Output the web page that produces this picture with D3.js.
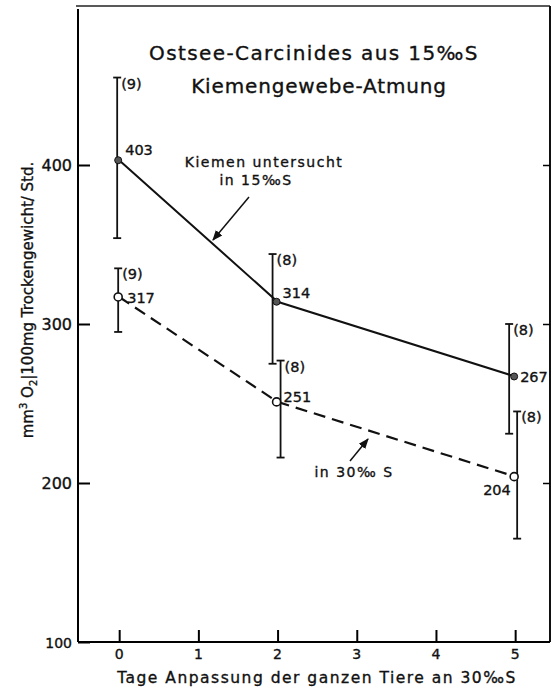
<!DOCTYPE html>
<html>
<head>
  <script src="https://d3js.org/d3.v7.min.js"></script>
  <style>
    body { margin: 0; background: #fff; }
    text { font-family: "DejaVu Sans", sans-serif; fill: #111; stroke: #111; stroke-width: 0.35px; }
  </style>
</head>
<body>
  <svg width="553" height="691"></svg>
  <script>
    // data
    var days = [0, 2, 5];
    var gillsIn15 = [403, 314, 267];
    var gillsIn15Hi = [455, 344, 300];
    var gillsIn15Lo = [354, 275, 231];
    var gillsIn15N = [9, 8, 8];
    var gillsIn30 = [317, 251, 204];
    var gillsIn30Hi = [335, 277, 245];
    var gillsIn30Lo = [295, 216, 165];
    var gillsIn30N = [9, 8, 8];
    var xTicks = [0, 1, 2, 3, 4, 5];
    var yTicks = [100, 200, 300, 400];

    var svg = d3.select("svg"),
        x0 = 78, x1 = 550, y0 = 6, y1 = 642;

    var x = d3.scaleLinear().domain([-0.52, 5.44]).range([x0, x1]),
        y = d3.scaleLinear().domain([100, 500]).range([y1, y0]);

    function rows(vals, hi, lo, n) {
      return days.map(function(d, i) {
        return {day: d, v: vals[i], hi: hi[i], lo: lo[i], n: n[i]};
      });
    }
    var s15 = rows(gillsIn15, gillsIn15Hi, gillsIn15Lo, gillsIn15N),
        s30 = rows(gillsIn30, gillsIn30Hi, gillsIn30Lo, gillsIn30N);

    // frame
    svg.append("line").attr("x1", x0 - 2).attr("x2", x1).attr("y1", y0).attr("y2", y0)
      .attr("stroke", "#222").attr("stroke-width", 1.5);
    svg.append("line").attr("x1", x1).attr("x2", x1).attr("y1", y0).attr("y2", y1)
      .attr("stroke", "#111").attr("stroke-width", 2);

    // left axis, ticks inward
    var yAxis = svg.append("g").attr("transform", "translate(" + x0 + ",0)")
      .call(d3.axisRight(y).tickValues(yTicks).tickSize(12).tickFormat(""));
    yAxis.select(".domain").attr("d", "M0," + (y0 + 3) + "V" + y1).attr("stroke-width", 2);
    yAxis.selectAll(".tick line").attr("stroke-width", 2);
    svg.selectAll(".ylab").data(yTicks).enter().append("text")
      .attr("x", x0 - 6).attr("y", function(d) { return y(d) + 6; })
      .attr("text-anchor", "end").style("font-size", function(d) { return d == 100 ? "14px" : "16px"; })
      .text(function(d) { return d; });

    // right side ticks
    svg.append("g").attr("transform", "translate(" + x1 + ",0)")
      .call(d3.axisLeft(y).tickValues([200, 300, 400]).tickSize(7).tickFormat(""))
      .call(function(g) { g.select(".domain").remove(); })
      .selectAll(".tick line").attr("stroke-width", 1.5);

    // bottom axis, ticks upward
    var xAxis = svg.append("g").attr("transform", "translate(0," + y1 + ")")
      .call(d3.axisTop(x).tickValues(xTicks).tickSize(12).tickFormat(""));
    xAxis.select(".domain").attr("d", "M" + x0 + ",0H" + x1).attr("stroke-width", 2);
    xAxis.selectAll(".tick line").attr("stroke-width", 2);
    svg.selectAll(".xlab").data(xTicks).enter().append("text")
      .attr("x", function(d) { return x(d); }).attr("y", y1 + 17)
      .attr("text-anchor", "middle").style("font-size", "14px")
      .text(function(d) { return d; });

    // axis titles
    svg.append("text").attr("x", 317).attr("y", 683).attr("text-anchor", "middle")
      .style("font-size", "15.5px").style("letter-spacing", "1.5px")
      .text("Tage  Anpassung der ganzen Tiere an 30\u2030S");

    var yl = svg.append("text").attr("transform", "translate(33,300) rotate(-90)")
      .attr("text-anchor", "middle").style("font-size", "15px");
    yl.append("tspan").text("mm");
    yl.append("tspan").attr("dy", -6).style("font-size", "10px").text("3");
    yl.append("tspan").attr("dy", 6).text(" O");
    yl.append("tspan").attr("dy", 4).style("font-size", "10px").text("2");
    yl.append("tspan").attr("dy", -4).text("|100mg  Trockengewicht/ Std.");

    // chart title
    svg.append("text").attr("x", 314).attr("y", 60).attr("text-anchor", "middle")
      .style("font-size", "20px").style("letter-spacing", "1.4px")
      .text("Ostsee-Carcinides aus 15\u2030S");
    svg.append("text").attr("x", 319).attr("y", 93).attr("text-anchor", "middle")
      .style("font-size", "20px").style("letter-spacing", "0.85px")
      .text("Kiemengewebe-Atmung");

    // error bars
    function errorBars(data, dx) {
      var g = svg.append("g");
      g.selectAll("line.v").data(data).enter().append("line")
        .attr("x1", function(d, i) { return x(d.day) + dx[i]; })
        .attr("x2", function(d, i) { return x(d.day) + dx[i]; })
        .attr("y1", function(d) { return y(d.hi); })
        .attr("y2", function(d) { return y(d.lo); })
        .attr("stroke", "#111").attr("stroke-width", 1.8);
      ["hi", "lo"].forEach(function(k) {
        g.selectAll("line." + k).data(data).enter().append("line")
          .attr("x1", function(d, i) { return x(d.day) + dx[i] - 4; })
          .attr("x2", function(d, i) { return x(d.day) + dx[i] + 4; })
          .attr("y1", function(d) { return y(d[k]); })
          .attr("y2", function(d) { return y(d[k]); })
          .attr("stroke", "#111").attr("stroke-width", 1.8);
      });
      g.selectAll("text").data(data).enter().append("text")
        .attr("x", function(d, i) { return x(d.day) + dx[i] + 4; })
        .attr("y", function(d) { return y(d.hi) + 11; })
        .style("font-size", "14.5px")
        .text(function(d) { return "(" + d.n + ")"; });
    }
    errorBars(s15, [-2, -5, -6]);
    errorBars(s30, [-1, 3, 2]);

    // lines
    var line = d3.line().x(function(d) { return x(d.day); }).y(function(d) { return y(d.v); });
    svg.append("path").datum(s15).attr("d", line)
      .attr("fill", "none").attr("stroke", "#111").attr("stroke-width", 2);
    svg.append("path").datum(s30).attr("d", line)
      .attr("fill", "none").attr("stroke", "#111").attr("stroke-width", 2.2)
      .attr("stroke-dasharray", "12,7");

    // markers
    svg.selectAll(".dot15").data(s15).enter().append("circle")
      .attr("cx", function(d) { return x(d.day) - 1; }).attr("cy", function(d) { return y(d.v); })
      .attr("r", 3.5).attr("fill", "#555").attr("stroke", "#111").attr("stroke-width", 1);
    svg.selectAll(".dot30").data(s30).enter().append("circle")
      .attr("cx", function(d) { return x(d.day) - 1; }).attr("cy", function(d) { return y(d.v); })
      .attr("r", 4).attr("fill", "#fff").attr("stroke", "#111").attr("stroke-width", 1.6);

    // value labels
    var lab15 = [[6, -5], [5, -4], [5, 6]],
        lab30 = [[8, 6], [6, 0], [-32, 18]];
    svg.selectAll(".v15").data(s15).enter().append("text")
      .attr("x", function(d, i) { return x(d.day) + lab15[i][0]; })
      .attr("y", function(d, i) { return y(d.v) + lab15[i][1]; })
      .style("font-size", "14.5px").text(function(d) { return d.v; });
    svg.selectAll(".v30").data(s30).enter().append("text")
      .attr("x", function(d, i) { return x(d.day) + lab30[i][0]; })
      .attr("y", function(d, i) { return y(d.v) + lab30[i][1]; })
      .style("font-size", "14.5px").text(function(d) { return d.v; });

    // annotations with arrows
    svg.append("defs").append("marker").attr("id", "ah")
      .attr("viewBox", "0 0 10 10").attr("refX", 9).attr("refY", 5)
      .attr("markerWidth", 7).attr("markerHeight", 7).attr("orient", "auto")
      .append("path").attr("d", "M0,1L10,5L0,9z").attr("fill", "#111");

    svg.append("text").attr("x", 264).attr("y", 167).attr("text-anchor", "middle")
      .style("font-size", "14px").style("letter-spacing", "1.5px").text("Kiemen untersucht");
    svg.append("text").attr("x", 256).attr("y", 185).attr("text-anchor", "middle")
      .style("font-size", "14px").style("letter-spacing", "1.5px").text("in 15\u2030S");
    svg.append("line").attr("x1", 249).attr("y1", 197).attr("x2", 213).attr("y2", 240)
      .attr("stroke", "#111").attr("stroke-width", 1.5).attr("marker-end", "url(#ah)");

    svg.append("text").attr("x", 354).attr("y", 477).attr("text-anchor", "middle")
      .style("font-size", "14px").style("letter-spacing", "1.5px").text("in 30\u2030 S");
    svg.append("line").attr("x1", 350).attr("y1", 461).attr("x2", 368).attr("y2", 439)
      .attr("stroke", "#111").attr("stroke-width", 1.5).attr("marker-end", "url(#ah)");
  </script>
</body>
</html>
